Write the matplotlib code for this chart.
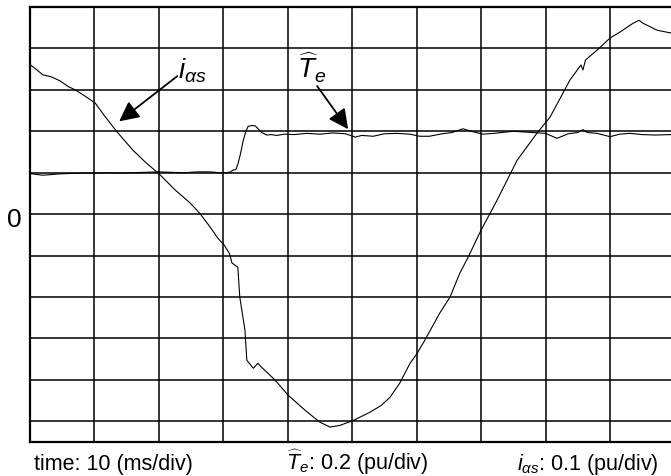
import matplotlib
matplotlib.use("Agg")
import matplotlib.pyplot as plt

plt.rcParams['font.family'] = ['Liberation Sans', 'DejaVu Sans']
plt.rcParams['mathtext.fontset'] = 'custom'
plt.rcParams['mathtext.rm'] = 'Liberation Sans'
plt.rcParams['mathtext.it'] = 'Liberation Sans:italic'

# values in screen divisions (time: 10 ms/div)
te_t = [0, 0.1, 0.2, 0.3, 0.45, 0.6, 0.8, 1.0, 1.2, 1.4,
        1.6, 1.8, 2.0, 2.2, 2.4, 2.6, 2.8, 2.95, 3.05, 3.12,
        3.15, 3.2, 3.23, 3.27, 3.31, 3.35, 3.39, 3.45, 3.5, 3.55,
        3.6, 3.68, 3.75, 3.83, 3.95, 4.1, 4.3, 4.5, 4.7, 4.9,
        5.05, 5.15, 5.33, 5.5, 5.7, 5.9, 6.05, 6.2, 6.4, 6.55,
        6.72, 6.85, 7.03, 7.2, 7.5, 7.8, 8.0, 8.18, 8.35, 8.5,
        8.58, 8.65, 8.8, 9.0, 9.15, 9.31, 9.5, 9.7, 9.95]
te_v = [0.98, 0.96, 0.94, 0.95, 0.97, 0.98, 0.99, 0.99, 1.0, 0.99,
        1.0, 1.01, 1.02, 1.01, 1.0, 1.02, 1.02, 1.0, 1.0, 1.02,
        1.06, 1.08, 1.2, 1.45, 1.75, 1.98, 2.12, 2.14, 2.13, 2.05,
        1.97, 1.91, 1.92, 1.9, 1.93, 1.92, 1.95, 1.93, 1.96, 1.94,
        1.86, 1.9, 1.88, 1.94, 1.95, 1.93, 1.88, 1.88, 1.94, 1.97,
        2.06, 2.0, 1.93, 1.95, 2.0, 1.97, 1.95, 1.83, 1.94, 1.97,
        2.04, 1.97, 1.95, 1.87, 1.93, 1.95, 1.92, 1.91, 1.92]

ias_t = [0.0, 0.1, 0.21, 0.33, 0.47, 0.6, 0.71, 0.85, 1.02, 1.15,
         1.36, 1.6, 1.8, 2.01, 2.26, 2.49, 2.64, 2.8, 2.92, 3.02,
         3.1, 3.14, 3.23, 3.26, 3.34, 3.37, 3.47, 3.54, 3.6, 3.65,
         3.81, 4.01, 4.27, 4.5, 4.66, 4.81, 5.02, 5.28, 5.45, 5.59,
         5.74, 5.9, 6.01, 6.13, 6.36, 6.52, 6.67, 6.8, 7.0, 7.25,
         7.56, 7.87, 8.07, 8.27, 8.38, 8.55, 8.58, 8.62, 8.8, 9.0,
         9.16, 9.36, 9.45, 9.51, 9.73, 9.95]
ias_v = [3.62, 3.5, 3.36, 3.32, 3.22, 3.08, 3.0, 2.86, 2.68, 2.4,
         1.98, 1.55, 1.25, 0.97, 0.58, 0.27, 0.02, -0.31, -0.58, -0.75,
         -0.95, -1.18, -1.28, -2.0, -2.8, -3.53, -3.72, -3.6, -3.7, -3.77,
         -4.01, -4.37, -4.73, -5.02, -5.14, -5.1, -4.98, -4.78, -4.62, -4.42,
         -4.08, -3.6, -3.36, -3.04, -2.39, -2.0, -1.43, -1.04, -0.39, 0.34,
         1.3, 1.96, 2.34, 2.92, 3.24, 3.6, 3.48, 3.72, 3.96, 4.25,
         4.4, 4.61, 4.68, 4.61, 4.44, 4.37]

fig = plt.figure(figsize=(6.71, 4.77), dpi=100)
ax = fig.add_axes([29.5 / 671, 34 / 477, 645 / 671, 435 / 477])
ax.set_xlim(0, 10)
ax.set_ylim(-5.5, 5)

# graticule
ax.set_xticks(range(0, 11))
ax.set_yticks(range(-5, 6))
ax.grid(True, color='black', linewidth=1.1)
ax.tick_params(length=0, labelbottom=False, labelleft=False)
for s in ax.spines.values():
    s.set_linewidth(1.6)

ax.plot(te_t, te_v, color='black', linewidth=0.8)
ax.plot(ias_t, ias_v, color='black', linewidth=0.8)

# trace labels and arrows
ax.text(2.31, 3.3, r'$i_{\alpha s}$', fontsize=20, va='baseline')
ax.annotate('', xy=(1.39, 2.24), xytext=(2.29, 3.33),
            arrowprops=dict(arrowstyle='-|>', color='black', lw=1.3,
                            mutation_scale=30, shrinkA=0, shrinkB=0))
ax.text(4.15, 3.3, r'$\widehat{T}_e$', fontsize=20, va='baseline')
ax.annotate('', xy=(4.94, 2.05), xytext=(4.46, 3.09),
            arrowprops=dict(arrowstyle='-|>', color='black', lw=1.3,
                            mutation_scale=30, shrinkA=0, shrinkB=0))

fig.text(7 / 671, 1 - 220 / 477, '0', fontsize=19, va='center')
fig.text(34 / 671, 1 - 470 / 477, 'time: 10 (ms/div)', fontsize=15.5, va='baseline')
fig.text(286 / 671, 1 - 470 / 477, r'$\widehat{T}_e$: 0.2 (pu/div)', fontsize=15.5, va='baseline')
fig.text(517 / 671, 1 - 470 / 477, r'$i_{\alpha s}$: 0.1 (pu/div)', fontsize=15.5, va='baseline')

fig.savefig('out.png', dpi=100)
